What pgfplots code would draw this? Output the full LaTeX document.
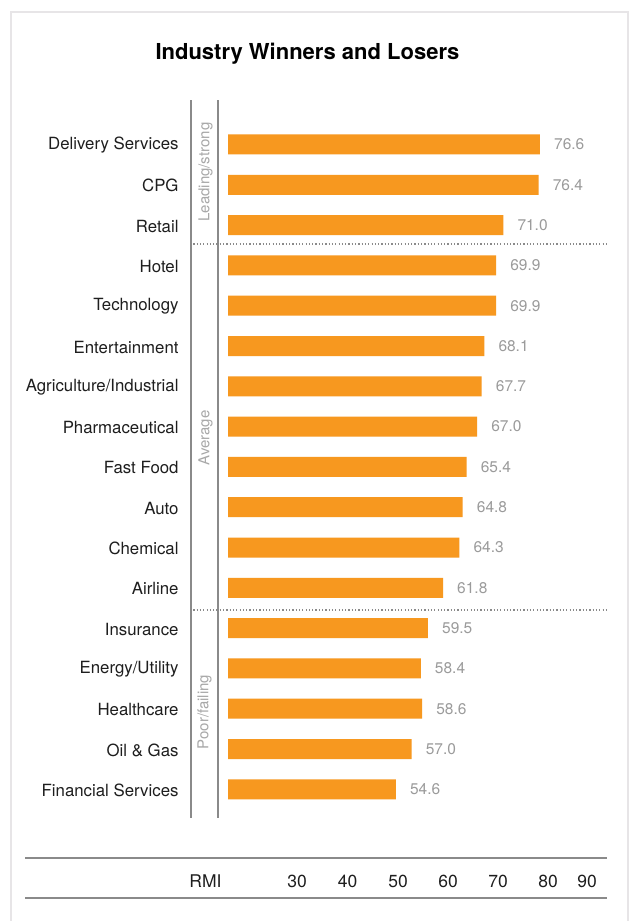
\documentclass[border=0pt]{standalone}
\usepackage{fontspec}
\setmainfont{TeX Gyre Heros}
\usepackage{pgfplots}
\usepackage{pgfplotstable}
\pgfplotsset{compat=1.18}

\definecolor{barorange}{HTML}{F7981F}
\definecolor{valgray}{HTML}{9B9B9B}
\definecolor{grouptext}{HTML}{A8A8A8}
\definecolor{rulegray}{HTML}{8A8A8A}
\definecolor{framegray}{HTML}{E7E5E7}
\definecolor{labelblack}{HTML}{1E1E1E}

% RMI score by industry, top to bottom
\pgfplotstableread{
pos rmi
0  76.6
1  76.4
2  71.0
3  69.9
4  69.9
5  68.1
6  67.7
7  67.0
8  65.4
9  64.8
10 64.3
11 61.8
12 59.5
13 58.4
14 58.6
15 57.0
16 54.6
}\rmidata

\begin{document}
\begin{tikzpicture}
\useasboundingbox (0,0) rectangle (632pt,-921pt);
\fill[white] (0,0) rectangle (632pt,-921pt);

% card frame
\draw[framegray, line width=2.2pt] (11pt,-921pt) -- (11pt,-12pt) -- (628pt,-12pt) -- (628pt,-921pt);

% title
\node[font=\fontsize{22}{26}\selectfont\bfseries, text=black] at (307.5pt,-54pt) {Industry Winners and Losers};

% group brackets
\draw[rulegray, line width=2pt] (191pt,-100pt) -- (191pt,-818pt);
\draw[rulegray, line width=2pt] (217.5pt,-100pt) -- (217.5pt,-818pt);
\draw[rulegray, line width=1.4pt, dash pattern=on 1.2pt off 2.1pt] (190pt,-244pt) -- (606pt,-244pt);
\draw[rulegray, line width=1.4pt, dash pattern=on 1.2pt off 2.1pt] (190pt,-610pt) -- (606pt,-610pt);

\begin{scope}[every node/.style={font=\fontsize{15}{18}\selectfont, text=grouptext, rotate=90}]
\node at (205.5pt,-172pt) {Leading/strong};
\node at (205.5pt,-438pt) {Average};
\node at (204.5pt,-712pt) {Poor/failing};
\end{scope}

\begin{axis}[
  at={(228pt,-818pt)}, anchor=south west,
  scale only axis, width=378pt, height=717pt,
  xmin=28.97, xmax=86.68,
  ymin=-1.079, ymax=16.712, y dir=reverse,
  xbar, bar width=20pt, bar shift=0pt,
  axis line style={draw=none}, tick style={draw=none},
  xtick=\empty,
  ytick={0,...,16},
  yticklabels={Delivery Services, CPG, Retail, Hotel, Technology, Entertainment,
    Agriculture/Industrial, Pharmaceutical, Fast Food, Auto, Chemical, Airline,
    Insurance, Energy/Utility, Healthcare, Oil \& Gas, Financial Services},
  yticklabel style={font=\fontsize{16.8}{20}\selectfont, text=labelblack,
    anchor=east, inner sep=0pt, xshift=-45pt, yshift=-1pt},
  nodes near coords, point meta=x,
  nodes near coords style={font=\fontsize{15.5}{18}\selectfont, text=valgray,
    anchor=west, inner sep=0pt, xshift=14pt,
    /pgf/number format/.cd, fixed, fixed zerofill, precision=1,
    assume math mode=true},
]
\addplot[fill=barorange, draw=none] table[x=rmi, y=pos] {\rmidata};
\end{axis}

% RMI scale row
\draw[rulegray, line width=2pt] (25pt,-857.7pt) -- (606.5pt,-857.7pt);
\draw[rulegray, line width=2pt] (25pt,-897.7pt) -- (606.5pt,-897.7pt);
\begin{scope}[every node/.style={font=\fontsize{17.5}{20}\selectfont, text=labelblack, inner sep=0pt}]
\node at (205.5pt,-881.5pt) {RMI};
\node at (297pt,-881.5pt) {30};
\node at (347.5pt,-881.5pt) {40};
\node at (398pt,-881.5pt) {50};
\node at (448pt,-881.5pt) {60};
\node at (498pt,-881.5pt) {70};
\node at (548pt,-881.5pt) {80};
\node at (587pt,-881.5pt) {90};
\end{scope}
\end{tikzpicture}
\end{document}
